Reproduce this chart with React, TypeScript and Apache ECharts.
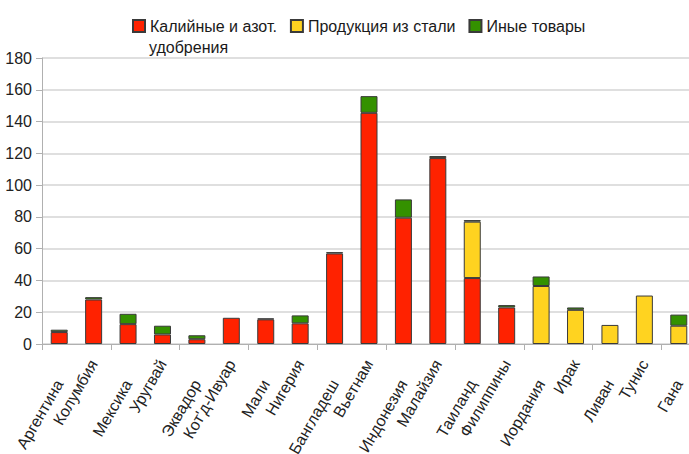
import React, { useEffect, useRef } from "react";
import * as echarts from "echarts";

const categories = [
  "Аргентина", "Колумбия", "Мексика", "Уругвай", "Эквадор", "Кот'д-Ивуар",
  "Мали", "Нигерия", "Бангладеш", "Вьетнам", "Индонезия", "Малайзия",
  "Таиланд", "Филиппины", "Иордания", "Ирак", "Ливан", "Тунис", "Гана",
];

const seriesNames = ["Калийные и азот. удобрения", "Продукция из стали", "Иные товары"];

const fertilizer = [7.5, 28, 12.5, 6, 3, 16.5, 15.5, 13, 57, 145.5, 79.5, 117, 41.5, 23, null, null, null, null, null];
const steel = [null, null, null, null, null, null, null, null, null, null, null, null, 35.5, null, 36.5, 21.5, 12, 30.5, 11.5];
const other = [1.5, 1.5, 6.5, 5.5, 2.5, null, 0.6, 5, 0.8, 10.5, 11.5, 1.3, 1, 1.5, 6, 1.5, null, null, 7];

const yTicks = { min: 0, max: 180, interval: 20 };

const colors = ["#ff2200", "#ffd320", "#349100"];
const FONT = "'Liberation Sans', Arial, sans-serif";

export default function App() {
  const ref = useRef<HTMLDivElement>(null);
  useEffect(() => {
    if (!ref.current) return;
    const chart = echarts.init(ref.current, undefined, { renderer: "svg" });
    const barStyle = (c: string) => ({ color: c, borderColor: "#3a3a3a", borderWidth: 1 });
    chart.setOption({
      animation: false,
      textStyle: { fontFamily: FONT },
      legend: {
        left: 132,
        top: 18,
        padding: 0,
        itemWidth: 12,
        itemHeight: 12,
        itemGap: 13,
        icon: "rect",
        data: seriesNames,
        formatter: (n: string) => (n === seriesNames[0] ? "Калийные и азот." : n),
        textStyle: { fontSize: 16, color: "#1a1a1a", fontFamily: FONT },
      },
      graphic: [
        {
          type: "text",
          left: 149,
          top: 39,
          style: { text: "удобрения", fontSize: 16, fill: "#1a1a1a", fontFamily: FONT },
        },
      ],
      grid: { left: 42, right: -7, top: 58, bottom: 110, containLabel: false, outerBoundsMode: "none" },
      xAxis: [
        {
          type: "category",
          data: categories,
          position: "bottom",
          axisLine: { lineStyle: { color: "#b0b0b0", width: 1 } },
          axisTick: { show: true, length: 6, lineStyle: { color: "#b0b0b0" } },
          axisLabel: {
            interval: (i: number) => i % 2 === 0,
            rotate: 60,
            margin: 37,
            fontSize: 16,
            color: "#222",
            fontFamily: FONT,
          },
        },
        {
          type: "category",
          data: categories,
          position: "bottom",
          axisLine: { show: false },
          axisTick: { show: false },
          splitLine: { show: false },
          axisLabel: {
            interval: (i: number) => i % 2 === 1,
            rotate: 60,
            margin: 17,
            fontSize: 16,
            color: "#222",
            fontFamily: FONT,
          },
        },
      ],
      yAxis: {
        type: "value",
        min: yTicks.min,
        max: yTicks.max,
        interval: yTicks.interval,
        axisLine: { show: true, lineStyle: { color: "#b0b0b0" } },
        axisTick: { show: true, length: 6, lineStyle: { color: "#b0b0b0" } },
        splitLine: { lineStyle: { color: "#d4d4d4", width: 1.5 } },
        axisLabel: { fontSize: 16, color: "#222", margin: 10, fontFamily: FONT },
      },
      series: [
        { name: seriesNames[0], type: "bar", stack: "s", barWidth: 17, data: fertilizer, itemStyle: barStyle(colors[0]) },
        { name: seriesNames[1], type: "bar", stack: "s", barWidth: 17, data: steel, itemStyle: barStyle(colors[1]) },
        { name: seriesNames[2], type: "bar", stack: "s", barWidth: 17, data: other, itemStyle: barStyle(colors[2]) },
      ],
    });
    return () => chart.dispose();
  }, []);
  return <div ref={ref} style={{ position: "absolute", left: 0, top: 0, width: 689, height: 454 }} />;
}
